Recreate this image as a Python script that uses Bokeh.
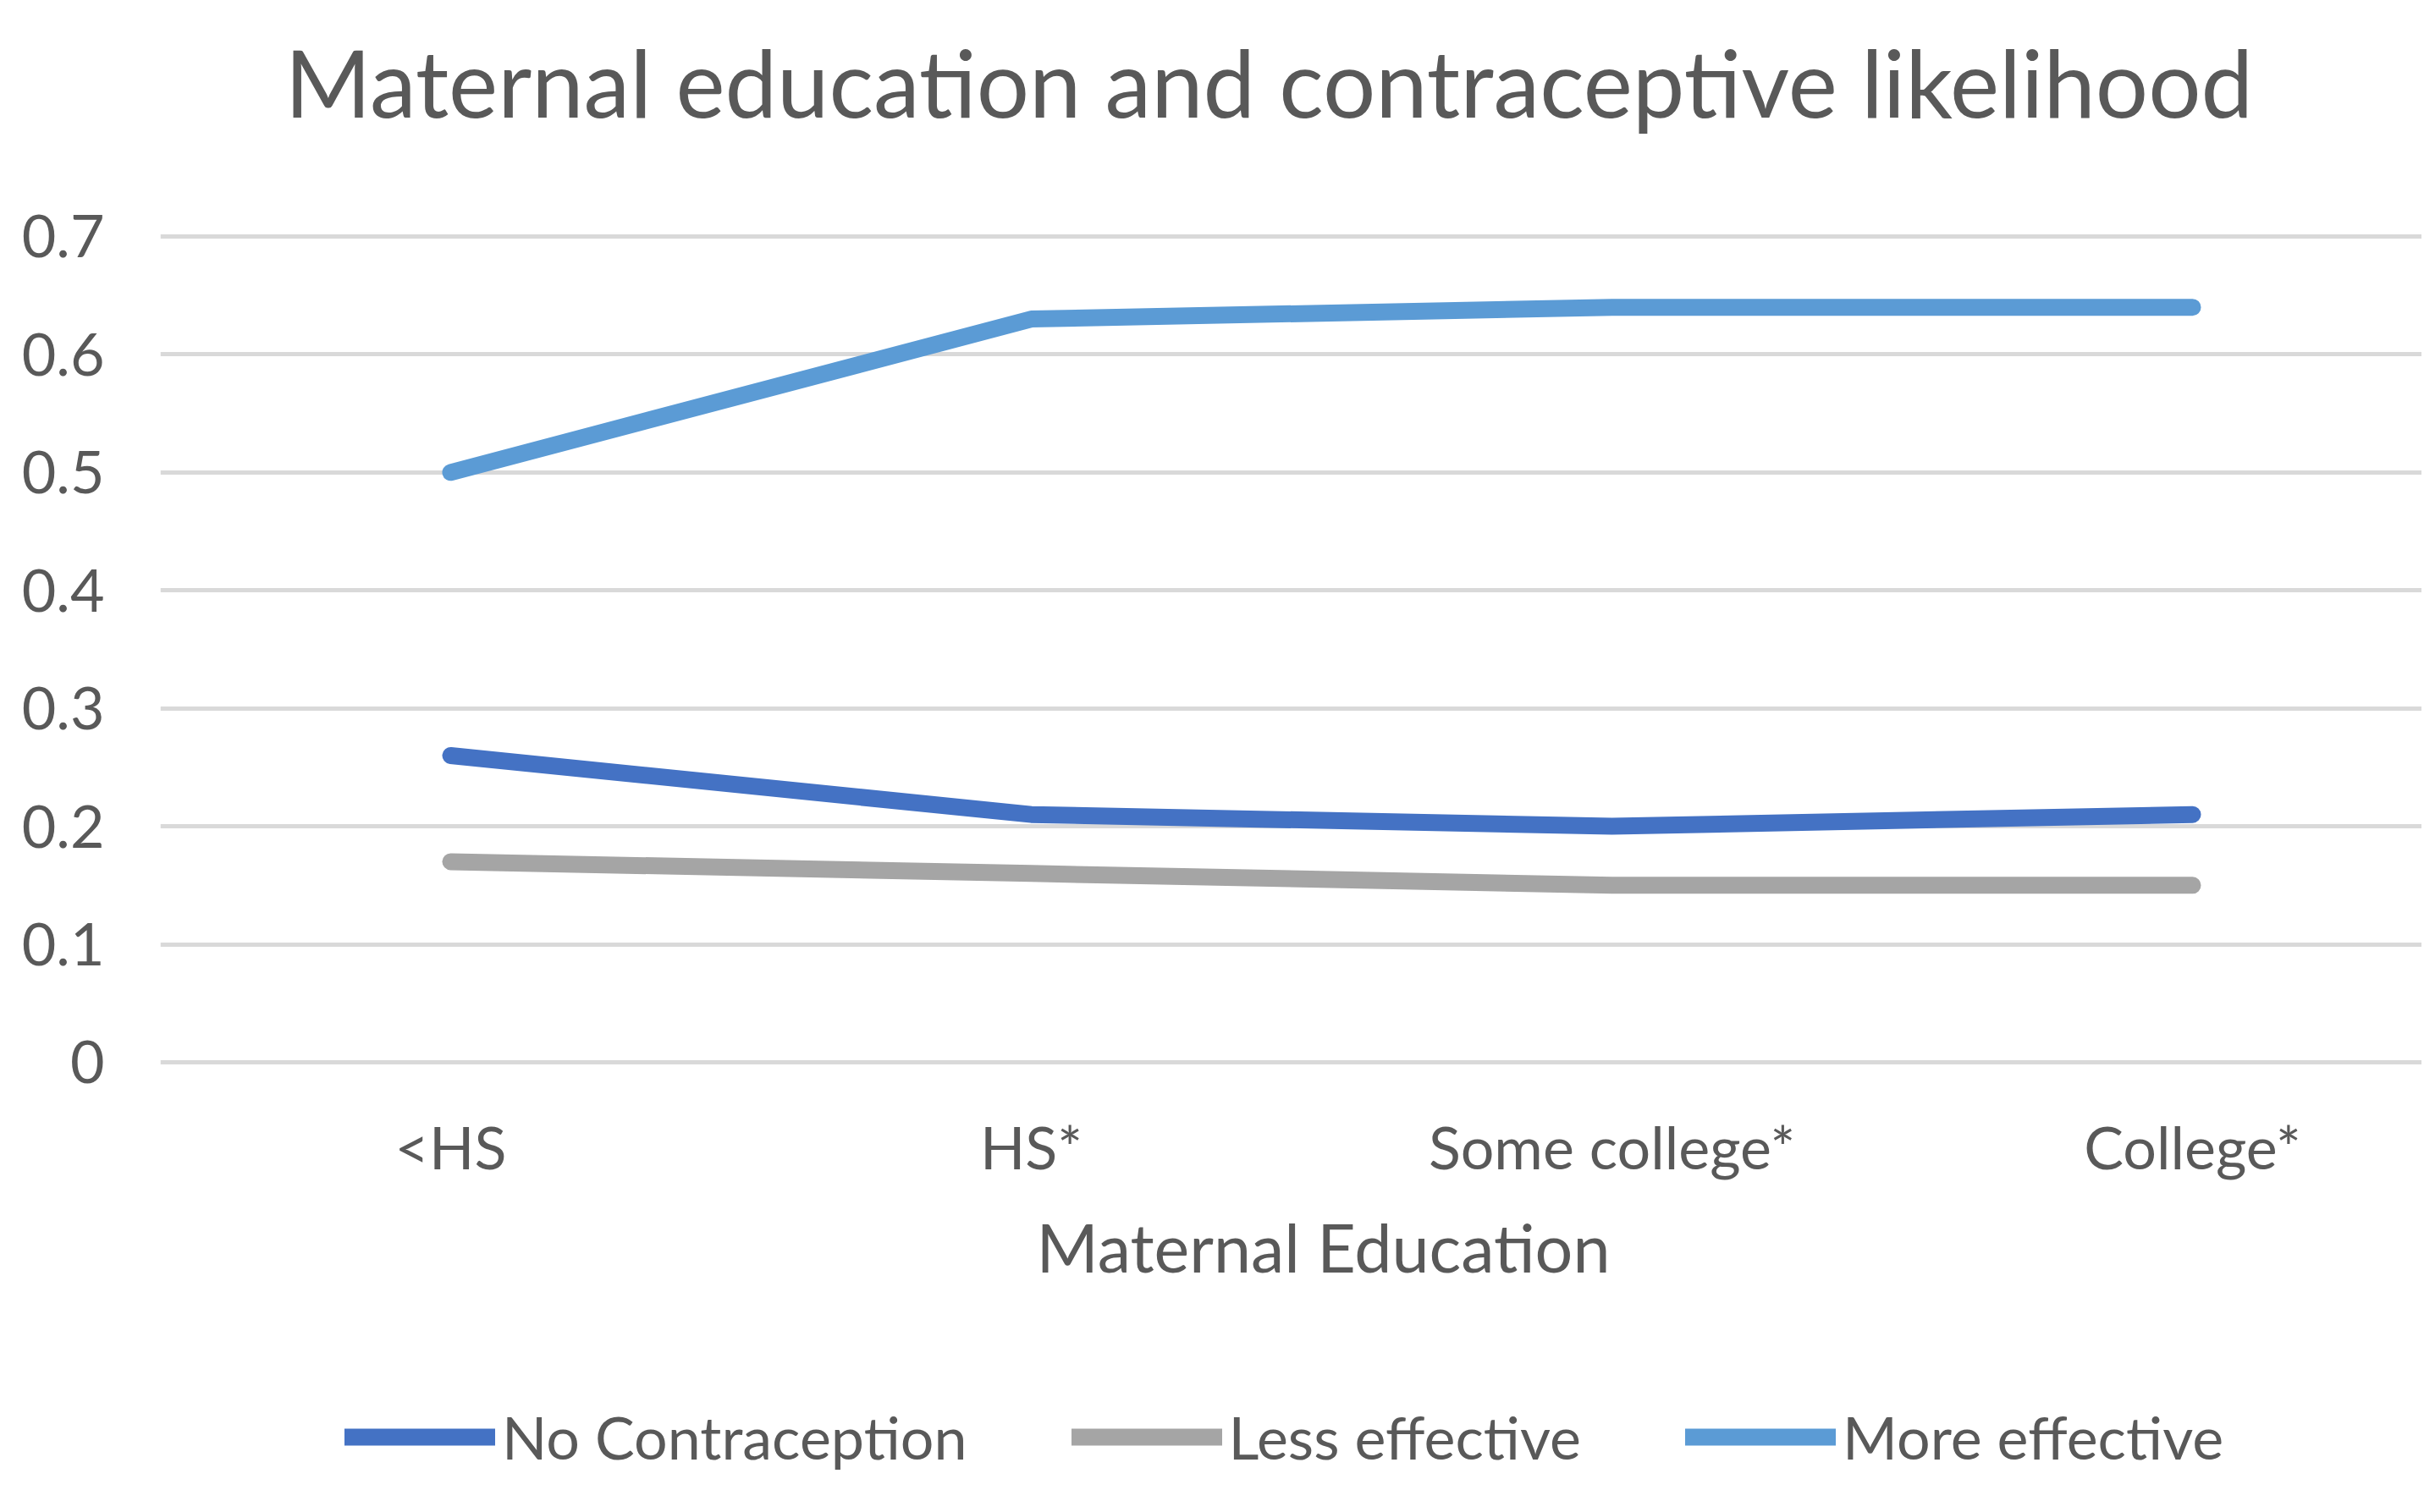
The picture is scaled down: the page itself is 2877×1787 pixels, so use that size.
from bokeh.plotting import figure
from bokeh.layouts import column
from bokeh.models import Range1d, FixedTicker, Legend, LegendItem, Title
from bokeh.embed import file_html
from bokeh.resources import INLINE

# ---- data ----
categories = ["<HS", "HS*", "Some college*", "College*"]
no_contraception = [0.26, 0.21, 0.20, 0.21]
less_effective = [0.17, 0.16, 0.15, 0.15]
more_effective = [0.50, 0.63, 0.64, 0.64]
series_names = ["No Contraception", "Less effective", "More effective"]
y_ticks = [0, 0.1, 0.2, 0.3, 0.4, 0.5, 0.6, 0.7]

title_text = "Maternal education and contraceptive likelihood"
x_title = "Maternal Education"

FONT = "Lato"
TXT = "#595959"
colors = ["#4472C4", "#A5A5A5", "#5B9BD5"]

x = [i + 0.5 for i in range(len(categories))]
series = [no_contraception, less_effective, more_effective]

W = 2861
H_MAIN = 1600
H_LEG = 171

p = figure(
    width=W, height=H_MAIN,
    output_backend="svg", toolbar_location=None,
    x_range=Range1d(0, 3.895), y_range=Range1d(-0.0108, 0.7208),
    min_border_left=189, min_border_right=0,
    min_border_top=250, min_border_bottom=330,
)
p.outline_line_color = None
p.background_fill_color = "white"
p.border_fill_color = "white"

# spacer between chart title and plot area
p.add_layout(Title(text=" ", text_font_size="1px", standoff=86), "above")

# chart title
p.title.text = title_text
p.title.text_font = FONT
p.title.text_font_size = "110px"
p.title.text_font_style = "normal"
p.title.text_color = TXT
p.title.align = "left"
p.title.offset = 147
p.title.standoff = 0

# grids
p.xgrid.grid_line_color = None
p.ygrid.grid_line_color = "#D9D9D9"
p.ygrid.grid_line_width = 5

# y axis
ya = p.yaxis[0]
ya.ticker = FixedTicker(ticks=y_ticks)
ya.major_label_overrides = {0: "0"}
ya.axis_line_color = None
ya.major_tick_line_color = None
ya.minor_tick_line_color = None
ya.major_tick_out = 0
ya.major_tick_in = 0
ya.major_label_text_font = FONT
ya.major_label_text_font_size = "70px"
ya.major_label_text_color = TXT
ya.major_label_standoff = 66

# x axis
xa = p.xaxis[0]
xa.ticker = FixedTicker(ticks=x)
xa.major_label_overrides = {xv: c for xv, c in zip(x, categories)}
xa.axis_line_color = None
xa.major_tick_line_color = None
xa.minor_tick_line_color = None
xa.major_tick_out = 0
xa.major_tick_in = 0
xa.major_label_text_font = FONT
xa.major_label_text_font_size = "70px"
xa.major_label_text_color = TXT
xa.major_label_standoff = 42

# x-axis title, centred on the full chart area
xt = Title(text=x_title, align="left", offset=1035, standoff=49,
           text_font=FONT, text_font_size="79px", text_font_style="normal",
           text_color=TXT)
p.add_layout(xt, "below")

for ys, col in zip(series, colors):
    p.line(x, ys, line_color=col, line_width=20, line_cap="round", line_join="round")

# ---- legend strip under the chart (same series, kept outside its visible range) ----
q = figure(
    width=W, height=H_LEG,
    output_backend="svg", toolbar_location=None,
    x_range=Range1d(0, 3.895), y_range=Range1d(5, 6),
    x_axis_type=None, y_axis_type=None,
    min_border_left=0, min_border_right=0, min_border_top=0, min_border_bottom=0,
)
q.outline_line_color = None
q.xgrid.grid_line_color = None
q.ygrid.grid_line_color = None
q.background_fill_color = "white"
q.border_fill_color = "white"

leg_renderers = [
    q.line(x, ys, line_color=col, line_width=20, line_cap="round")
    for ys, col in zip(series, colors)
]

legend = Legend(
    items=[LegendItem(label=n, renderers=[r]) for n, r in zip(series_names, leg_renderers)],
    orientation="horizontal",
    location=(218, 31),
    label_text_font=FONT,
    label_text_font_size="70px",
    label_text_color=TXT,
    glyph_width=178,
    glyph_height=40,
    label_standoff=8,
    spacing=123,
    padding=0,
    margin=0,
    background_fill_alpha=0,
    border_line_color=None,
)
q.add_layout(legend, "center")

layout = column(p, q, spacing=0)
open("out.html", "w").write(file_html(layout, INLINE))
